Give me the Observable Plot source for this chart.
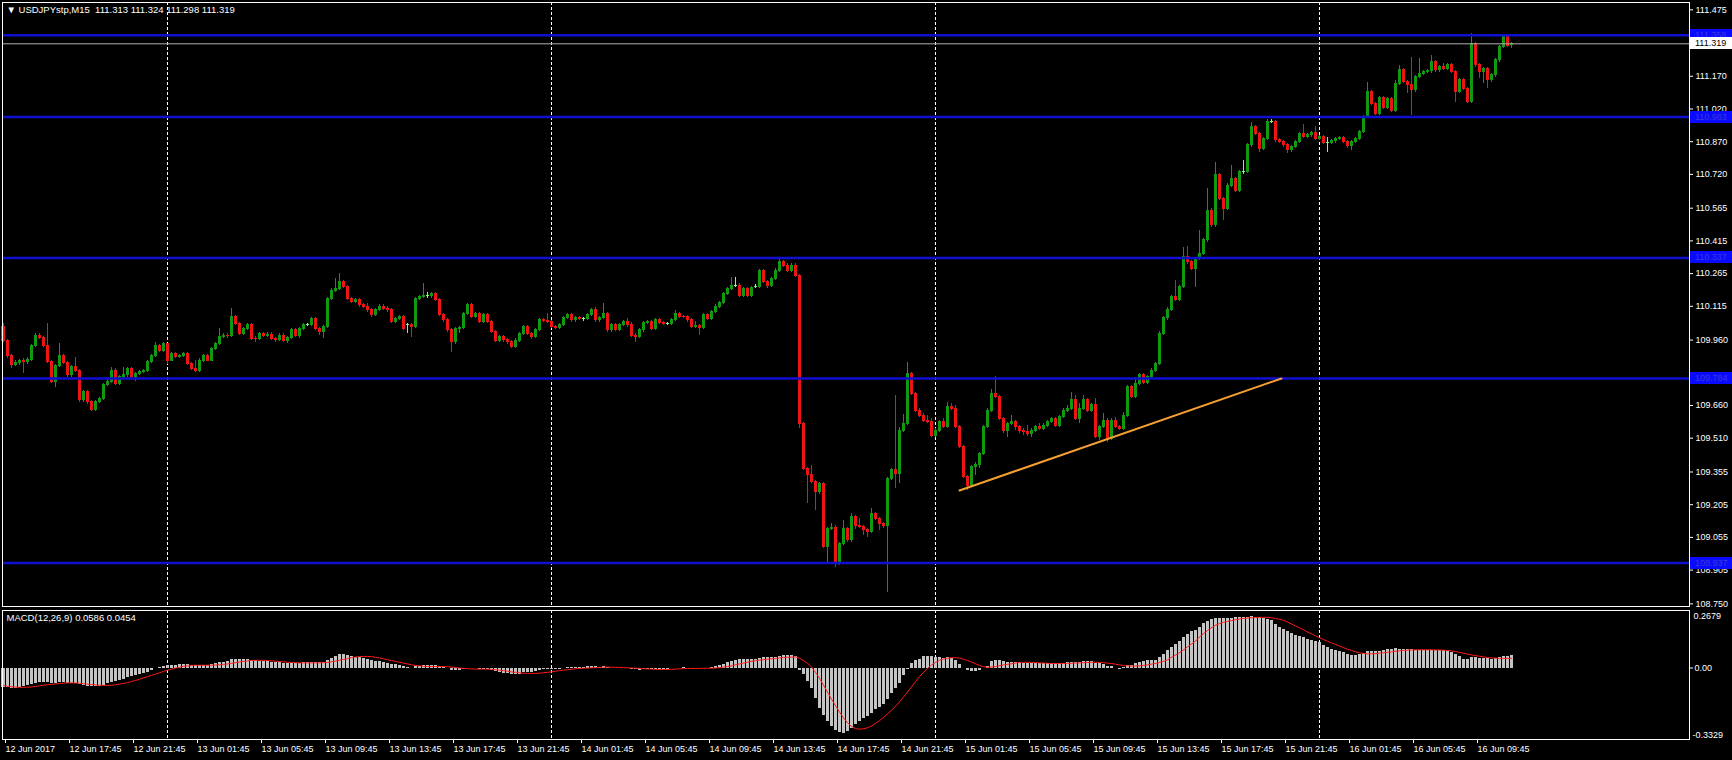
<!DOCTYPE html>
<html><head><meta charset="utf-8">
<script src="https://cdn.jsdelivr.net/npm/d3@7"></script>
<script src="https://cdn.jsdelivr.net/npm/@observablehq/plot@0.6"></script>
<style>
html,body{margin:0;padding:0;background:#000;}
#chart{position:relative;width:1732px;height:760px;overflow:hidden;background:#000;}
#chart svg{position:absolute;left:0;}
#chart text{white-space:pre;}
</style></head><body><div id="chart"></div>
<script>
// ---- data (USDJPYstp M15, bar 0 = 12 Jun 13:45) ----
const open = [
110.019,109.958,109.889,109.848,109.854,109.863,109.859,109.869,109.935,109.981,
109.970,109.931,109.859,109.767,109.843,109.885,109.854,109.798,109.836,109.817,
109.683,109.721,109.675,109.640,109.675,109.690,109.752,109.767,109.820,109.759,
109.790,109.798,109.828,109.790,109.805,109.813,109.816,109.859,109.889,109.935,
109.912,109.940,109.866,109.897,109.882,109.889,109.897,109.851,109.828,109.820,
109.866,109.889,109.866,109.920,109.943,109.973,109.981,109.977,110.065,110.035,
109.989,110.012,110.027,109.966,109.963,109.989,109.981,109.985,109.966,109.961,
109.981,109.958,109.970,110.004,109.981,110.012,110.031,110.031,110.057,110.012,
109.996,110.019,110.149,110.187,110.195,110.226,110.203,110.149,110.134,110.142,
110.119,110.114,110.096,110.073,110.099,110.114,110.103,110.096,110.042,110.057,
110.065,110.027,110.027,110.019,110.149,110.157,110.160,110.160,110.172,110.142,
110.073,110.050,110.004,109.950,110.011,110.015,110.080,110.119,110.068,110.080,
110.042,110.073,110.042,109.996,109.958,109.973,109.961,109.950,109.930,109.958,
109.989,110.019,109.989,109.976,110.007,110.050,110.047,110.042,110.019,110.016,
110.031,110.060,110.073,110.050,110.062,110.057,110.057,110.077,110.096,110.050,
110.062,110.080,110.004,110.027,110.007,110.031,110.042,110.027,109.981,109.973,
110.004,110.037,110.042,110.011,110.050,110.037,110.034,110.034,110.053,110.080,
110.068,110.065,110.050,110.022,110.024,110.016,110.073,110.057,110.088,110.114,
110.129,110.172,110.195,110.210,110.210,110.164,110.195,110.164,110.205,110.205,
110.275,110.226,110.206,110.241,110.279,110.317,110.302,110.279,110.302,110.256,
109.576,109.369,109.339,109.308,109.262,109.298,109.010,109.094,109.100,108.934,
109.025,109.094,109.041,109.148,109.109,109.102,109.087,109.079,109.163,109.140,
109.117,109.109,109.324,109.362,109.346,109.545,109.576,109.805,109.713,109.637,
109.614,109.591,109.585,109.522,109.545,109.583,109.561,109.652,109.645,109.561,
109.469,109.331,109.293,109.377,109.385,109.438,109.561,109.637,109.713,109.698,
109.599,109.545,109.576,109.583,109.561,109.545,109.538,109.530,109.545,109.561,
109.553,109.568,109.583,109.599,109.568,109.606,109.637,109.645,109.683,109.599,
109.645,109.683,109.637,109.660,109.515,109.561,109.591,109.507,109.591,109.561,
109.553,109.614,109.744,109.698,109.759,109.800,109.765,109.790,109.820,109.850,
109.990,110.060,110.100,110.157,110.145,110.203,110.340,110.317,110.287,110.333,
110.356,110.417,110.554,110.486,110.715,110.608,110.562,110.669,110.700,110.646,
110.730,110.730,110.853,110.937,110.906,110.837,110.883,110.960,110.960,110.876,
110.868,110.853,110.830,110.845,110.868,110.906,110.891,110.899,110.909,110.883,
110.891,110.863,110.863,110.872,110.883,110.885,110.868,110.848,110.868,110.883,
110.914,110.983,111.097,111.044,110.998,111.071,111.025,111.067,111.013,111.135,
111.197,111.143,111.128,111.105,111.166,111.181,111.189,111.193,111.235,111.197,
111.212,111.204,111.220,111.189,111.097,111.151,111.113,111.051,111.319,111.220,
111.189,111.204,111.151,111.174,111.243,111.304,111.350,111.313];
const high = [
110.034,109.965,109.895,109.866,109.872,109.875,109.878,109.942,109.989,109.990,
109.978,110.035,109.866,109.850,109.943,109.893,109.862,109.843,109.882,109.825,
109.730,109.728,109.684,109.683,109.698,109.760,109.782,109.835,109.828,109.798,
109.835,109.836,109.835,109.812,109.820,109.824,109.866,109.896,109.950,109.942,
109.948,109.946,109.905,109.904,109.895,109.904,109.903,109.858,109.866,109.874,
109.896,109.895,109.927,109.950,110.012,109.989,109.988,110.103,110.072,110.042,
110.020,110.034,110.034,109.975,109.997,109.995,109.997,109.996,109.973,109.988,
109.988,109.978,110.012,110.011,110.020,110.034,110.038,110.065,110.064,110.019,
110.027,110.157,110.195,110.241,110.264,110.234,110.210,110.157,110.150,110.149,
110.126,110.126,110.103,110.106,110.122,110.121,110.112,110.103,110.065,110.073,
110.072,110.035,110.034,110.157,110.165,110.218,110.180,110.180,110.179,110.149,
110.080,110.057,110.011,110.019,110.023,110.088,110.126,110.126,110.088,110.088,
110.080,110.080,110.050,110.004,109.981,109.981,109.968,109.958,109.966,109.996,
110.027,110.027,109.996,110.015,110.057,110.057,110.080,110.050,110.027,110.038,
110.067,110.080,110.080,110.069,110.069,110.065,110.084,110.103,110.111,110.069,
110.126,110.088,110.035,110.034,110.038,110.050,110.057,110.042,109.988,110.011,
110.045,110.050,110.050,110.057,110.060,110.045,110.042,110.060,110.096,110.088,
110.075,110.073,110.057,110.045,110.031,110.080,110.080,110.096,110.122,110.137,
110.180,110.203,110.249,110.249,110.218,110.203,110.203,110.207,110.213,110.282,
110.285,110.233,110.248,110.287,110.333,110.325,110.310,110.310,110.310,110.262,
109.584,109.377,109.385,109.316,109.306,109.306,109.102,109.117,109.108,109.033,
109.133,109.102,109.163,109.156,109.140,109.110,109.095,109.186,109.171,109.148,
109.125,109.332,109.370,109.706,109.560,109.620,109.859,109.813,109.721,109.645,
109.622,109.614,109.600,109.553,109.591,109.600,109.675,109.668,109.660,109.568,
109.477,109.339,109.385,109.400,109.446,109.568,109.645,109.735,109.793,109.706,
109.606,109.583,109.614,109.591,109.568,109.553,109.568,109.553,109.568,109.576,
109.576,109.591,109.606,109.606,109.614,109.645,109.660,109.721,109.706,109.668,
109.706,109.690,109.668,109.691,109.568,109.625,109.599,109.599,109.606,109.570,
109.630,109.752,109.751,109.790,109.808,109.808,109.798,109.828,109.858,110.000,
110.068,110.108,110.165,110.233,110.211,110.386,110.389,110.325,110.341,110.463,
110.425,110.654,110.562,110.776,110.723,110.616,110.677,110.761,110.708,110.738,
110.784,110.861,110.960,110.945,110.914,110.891,110.970,110.970,110.968,110.884,
110.876,110.861,110.853,110.876,110.914,110.949,110.906,110.916,110.940,110.899,
110.899,110.891,110.880,110.891,110.893,110.893,110.876,110.876,110.891,110.922,
110.991,111.143,111.105,111.052,111.079,111.079,111.075,111.075,111.150,111.220,
111.205,111.151,111.255,111.174,111.250,111.197,111.201,111.265,111.243,111.220,
111.227,111.228,111.228,111.197,111.159,111.159,111.120,111.368,111.327,111.228,
111.212,111.212,111.182,111.251,111.312,111.362,111.358,111.324];
const low = [
109.950,109.874,109.830,109.838,109.845,109.805,109.850,109.862,109.928,109.962,
109.925,109.852,109.762,109.744,109.836,109.846,109.790,109.790,109.810,109.676,
109.676,109.665,109.632,109.634,109.668,109.684,109.745,109.760,109.752,109.752,
109.782,109.790,109.780,109.770,109.797,109.806,109.810,109.852,109.882,109.905,
109.905,109.850,109.860,109.876,109.876,109.882,109.845,109.821,109.812,109.813,
109.859,109.860,109.860,109.912,109.936,109.966,109.969,109.970,110.028,109.982,
109.982,110.005,109.959,109.950,109.956,109.973,109.974,109.958,109.950,109.954,
109.950,109.945,109.963,109.974,109.966,110.005,110.024,110.024,110.005,109.980,
109.966,110.012,110.142,110.180,110.188,110.196,110.142,110.126,110.127,110.111,
110.107,110.088,110.063,110.066,110.092,110.096,110.088,110.035,110.035,110.050,
110.004,109.989,109.973,110.012,110.141,110.150,110.153,110.153,110.135,110.066,
110.042,109.996,109.904,109.942,109.989,110.008,110.073,110.061,110.061,110.035,
110.035,110.035,109.989,109.950,109.950,109.950,109.942,109.922,109.922,109.950,
109.981,109.981,109.961,109.968,110.000,110.040,110.035,110.012,110.008,110.008,
110.024,110.053,110.042,110.042,110.050,110.046,110.050,110.069,110.042,110.042,
110.055,109.996,109.996,110.000,110.000,110.024,110.019,109.973,109.950,109.966,
109.996,110.030,110.004,110.004,110.030,110.027,110.026,110.027,110.046,110.061,
110.057,110.042,110.015,110.015,109.981,110.008,110.050,110.050,110.080,110.106,
110.122,110.164,110.188,110.202,110.157,110.157,110.157,110.157,110.196,110.198,
110.218,110.198,110.199,110.233,110.272,110.294,110.272,110.272,110.249,109.553,
109.360,109.209,109.300,109.178,109.254,109.002,108.941,109.087,108.918,108.926,
109.018,109.033,109.033,109.090,109.094,109.064,109.056,109.071,109.132,109.087,
109.094,108.804,109.316,109.278,109.300,109.537,109.568,109.705,109.630,109.606,
109.583,109.577,109.514,109.514,109.537,109.553,109.553,109.637,109.553,109.462,
109.323,109.270,109.285,109.340,109.370,109.430,109.553,109.630,109.690,109.591,
109.530,109.514,109.568,109.545,109.530,109.522,109.520,109.514,109.537,109.545,
109.545,109.561,109.576,109.561,109.561,109.599,109.630,109.637,109.591,109.576,
109.637,109.630,109.630,109.507,109.500,109.553,109.492,109.500,109.553,109.545,
109.545,109.606,109.690,109.690,109.751,109.758,109.757,109.782,109.812,109.842,
109.982,110.052,110.092,110.137,110.137,110.195,110.309,110.279,110.203,110.325,
110.348,110.409,110.478,110.478,110.600,110.509,110.554,110.661,110.638,110.638,
110.719,110.722,110.845,110.898,110.822,110.829,110.875,110.952,110.868,110.860,
110.845,110.815,110.822,110.837,110.860,110.883,110.883,110.891,110.875,110.875,
110.855,110.822,110.855,110.864,110.875,110.860,110.840,110.830,110.860,110.875,
110.906,110.975,111.036,110.990,110.990,111.017,111.017,111.005,111.005,111.127,
111.135,111.090,110.990,111.097,111.158,111.173,111.181,111.185,111.189,111.189,
111.196,111.196,111.181,111.051,111.089,111.105,111.044,111.043,111.212,111.158,
111.135,111.113,111.143,111.166,111.235,111.296,111.303,111.298];
const close = [
109.958,109.889,109.848,109.854,109.863,109.859,109.869,109.935,109.981,109.970,
109.931,109.859,109.767,109.843,109.885,109.854,109.798,109.836,109.817,109.683,
109.721,109.675,109.640,109.675,109.690,109.752,109.767,109.820,109.759,109.790,
109.798,109.828,109.790,109.805,109.813,109.816,109.859,109.889,109.935,109.912,
109.940,109.866,109.897,109.882,109.889,109.897,109.851,109.828,109.820,109.866,
109.889,109.866,109.920,109.943,109.973,109.981,109.977,110.065,110.035,109.989,
110.012,110.027,109.966,109.963,109.989,109.981,109.985,109.966,109.961,109.981,
109.958,109.970,110.004,109.981,110.012,110.027,110.031,110.057,110.012,109.996,
110.019,110.149,110.187,110.195,110.226,110.203,110.149,110.134,110.142,110.119,
110.114,110.096,110.073,110.099,110.114,110.103,110.096,110.042,110.057,110.065,
110.011,110.027,110.019,110.149,110.157,110.160,110.160,110.172,110.142,110.073,
110.050,110.004,109.950,110.011,110.015,110.080,110.119,110.068,110.080,110.042,
110.073,110.042,109.996,109.958,109.973,109.961,109.950,109.930,109.958,109.989,
110.019,109.989,109.976,110.007,110.050,110.047,110.042,110.019,110.016,110.031,
110.060,110.073,110.050,110.062,110.057,110.057,110.077,110.096,110.050,110.062,
110.080,110.004,110.027,110.007,110.031,110.042,110.027,109.981,109.973,110.004,
110.037,110.042,110.011,110.050,110.037,110.034,110.034,110.053,110.080,110.068,
110.065,110.050,110.022,110.024,110.016,110.073,110.057,110.088,110.114,110.129,
110.172,110.195,110.210,110.210,110.164,110.195,110.164,110.200,110.205,110.275,
110.226,110.206,110.241,110.279,110.317,110.302,110.279,110.302,110.256,109.576,
109.369,109.339,109.308,109.262,109.298,109.010,109.094,109.100,108.934,109.025,
109.094,109.041,109.148,109.109,109.102,109.087,109.079,109.163,109.140,109.117,
109.109,109.324,109.362,109.346,109.545,109.576,109.805,109.713,109.637,109.614,
109.591,109.585,109.522,109.545,109.583,109.561,109.652,109.645,109.561,109.469,
109.331,109.293,109.377,109.385,109.438,109.561,109.637,109.713,109.698,109.599,
109.545,109.576,109.583,109.561,109.545,109.538,109.530,109.545,109.561,109.553,
109.568,109.583,109.599,109.568,109.606,109.637,109.645,109.683,109.599,109.645,
109.683,109.637,109.660,109.515,109.561,109.591,109.507,109.591,109.561,109.553,
109.614,109.744,109.698,109.759,109.800,109.765,109.790,109.820,109.850,109.990,
110.060,110.100,110.157,110.145,110.203,110.340,110.317,110.287,110.333,110.356,
110.417,110.554,110.486,110.715,110.608,110.562,110.669,110.700,110.646,110.730,
110.730,110.853,110.937,110.906,110.837,110.883,110.960,110.960,110.876,110.868,
110.853,110.830,110.845,110.868,110.906,110.891,110.899,110.909,110.883,110.891,
110.863,110.863,110.872,110.883,110.885,110.868,110.848,110.868,110.883,110.914,
110.983,111.097,111.044,110.998,111.071,111.025,111.067,111.013,111.135,111.197,
111.143,111.128,111.105,111.166,111.181,111.189,111.193,111.235,111.197,111.212,
111.204,111.220,111.189,111.097,111.151,111.113,111.051,111.319,111.220,111.189,
111.204,111.151,111.174,111.243,111.304,111.350,111.311,111.319];
const macdMain = [
-0.090,-0.092,-0.094,-0.094,-0.092,-0.088,-0.083,-0.078,-0.072,-0.068,
-0.066,-0.067,-0.072,-0.072,-0.069,-0.068,-0.070,-0.070,-0.071,-0.077,
-0.080,-0.084,-0.088,-0.088,-0.086,-0.080,-0.074,-0.066,-0.064,-0.058,
-0.052,-0.045,-0.041,-0.036,-0.031,-0.026,-0.019,-0.011,-0.002,0.004,
0.009,0.012,0.013,0.014,0.015,0.016,0.015,0.013,0.011,0.011,
0.012,0.012,0.015,0.019,0.024,0.028,0.031,0.038,0.040,0.039,
0.038,0.038,0.035,0.033,0.032,0.031,0.030,0.028,0.026,0.025,
0.023,0.022,0.023,0.022,0.023,0.024,0.025,0.027,0.026,0.024,
0.024,0.035,0.046,0.054,0.062,0.061,0.058,0.054,0.051,0.047,
0.043,0.039,0.034,0.031,0.029,0.026,0.023,0.018,0.015,0.012,
0.007,0.004,0.000,0.006,0.009,0.011,0.012,0.012,0.010,0.005,
0.001,-0.004,-0.010,-0.010,-0.010,-0.006,-0.002,-0.003,-0.003,-0.006,
-0.006,-0.008,-0.012,-0.018,-0.021,-0.024,-0.027,-0.030,-0.030,-0.028,
-0.023,-0.022,-0.021,-0.017,-0.011,-0.008,-0.006,-0.006,-0.006,-0.005,
-0.002,0.002,0.002,0.003,0.003,0.004,0.006,0.009,0.006,0.004,
0.006,0.002,0.000,-0.002,-0.002,-0.001,-0.002,-0.006,-0.009,-0.010,
-0.009,-0.008,-0.008,-0.007,-0.006,-0.006,-0.005,-0.004,-0.001,0.000,
0.001,0.000,-0.002,-0.003,-0.004,-0.002,-0.001,0.002,0.006,0.011,
0.018,0.025,0.032,0.037,0.039,0.040,0.040,0.041,0.041,0.046,
0.047,0.047,0.048,0.051,0.055,0.056,0.056,0.056,0.053,-0.012,
-0.032,-0.062,-0.095,-0.140,-0.190,-0.222,-0.250,-0.272,-0.290,-0.302,
-0.303,-0.296,-0.282,-0.262,-0.248,-0.235,-0.225,-0.212,-0.195,-0.182,
-0.168,-0.145,-0.118,-0.095,-0.070,-0.035,-0.005,0.022,0.035,0.042,
0.052,0.055,0.054,0.050,0.048,0.046,0.047,0.045,0.035,0.017,
0.000,-0.012,-0.017,-0.017,-0.012,-0.004,0.008,0.030,0.035,0.034,
0.030,0.028,0.025,0.024,0.024,0.022,0.020,0.020,0.019,0.019,
0.019,0.019,0.020,0.019,0.020,0.022,0.024,0.028,0.026,0.027,
0.030,0.032,0.030,0.023,0.020,0.018,0.008,0.005,0.000,-0.005,
0.002,0.010,0.014,0.020,0.025,0.032,0.035,0.034,0.036,0.050,
0.063,0.080,0.094,0.110,0.125,0.140,0.156,0.168,0.176,0.190,
0.207,0.218,0.226,0.230,0.231,0.231,0.232,0.232,0.234,0.235,
0.236,0.237,0.238,0.236,0.234,0.232,0.226,0.220,0.205,0.190,
0.179,0.168,0.160,0.152,0.147,0.142,0.135,0.128,0.122,0.117,
0.104,0.096,0.086,0.080,0.076,0.072,0.062,0.059,0.060,0.063,
0.068,0.075,0.077,0.079,0.079,0.082,0.085,0.087,0.089,0.088,
0.087,0.086,0.085,0.083,0.083,0.082,0.082,0.083,0.082,0.082,
0.081,0.079,0.072,0.062,0.053,0.042,0.040,0.048,0.048,0.046,
0.045,0.044,0.041,0.043,0.048,0.052,0.055,0.0586];
const macdSignal = [
-0.082,-0.085,-0.087,-0.089,-0.090,-0.090,-0.089,-0.088,-0.086,-0.083,
-0.080,-0.078,-0.076,-0.074,-0.072,-0.070,-0.069,-0.069,-0.070,-0.071,
-0.073,-0.075,-0.077,-0.079,-0.080,-0.081,-0.081,-0.080,-0.078,-0.075,
-0.072,-0.068,-0.063,-0.058,-0.052,-0.046,-0.040,-0.034,-0.028,-0.022,
-0.016,-0.010,-0.005,0.000,0.004,0.008,0.010,0.012,0.013,0.013,
0.013,0.013,0.013,0.014,0.015,0.017,0.019,0.022,0.025,0.028,
0.031,0.033,0.035,0.036,0.036,0.036,0.035,0.033,0.032,0.030,
0.029,0.027,0.026,0.025,0.024,0.024,0.024,0.024,0.024,0.024,
0.025,0.026,0.029,0.032,0.036,0.040,0.044,0.048,0.051,0.053,
0.054,0.054,0.053,0.050,0.047,0.043,0.039,0.035,0.031,0.027,
0.023,0.019,0.015,0.012,0.010,0.008,0.007,0.007,0.007,0.007,
0.007,0.006,0.004,0.002,0.000,-0.002,-0.003,-0.004,-0.005,-0.005,
-0.005,-0.005,-0.006,-0.008,-0.010,-0.012,-0.015,-0.018,-0.020,-0.022,
-0.024,-0.025,-0.025,-0.025,-0.024,-0.022,-0.020,-0.018,-0.015,-0.012,
-0.010,-0.008,-0.006,-0.004,-0.002,-0.001,0.000,0.001,0.002,0.003,
0.004,0.004,0.004,0.003,0.003,0.002,0.001,0.000,-0.001,-0.002,
-0.003,-0.004,-0.005,-0.006,-0.007,-0.007,-0.007,-0.006,-0.005,-0.004,
-0.003,-0.002,-0.002,-0.002,-0.002,-0.001,-0.001,-0.001,0.000,0.002,
0.004,0.007,0.010,0.015,0.019,0.023,0.027,0.031,0.034,0.037,
0.039,0.041,0.043,0.045,0.047,0.049,0.050,0.051,0.052,0.045,
0.035,0.022,0.005,-0.020,-0.048,-0.080,-0.112,-0.145,-0.175,-0.205,
-0.232,-0.255,-0.272,-0.282,-0.285,-0.283,-0.278,-0.270,-0.258,-0.245,
-0.230,-0.214,-0.197,-0.178,-0.158,-0.135,-0.112,-0.088,-0.064,-0.040,
-0.020,-0.002,0.014,0.026,0.036,0.042,0.046,0.048,0.048,0.046,
0.041,0.035,0.028,0.020,0.012,0.006,0.003,0.004,0.007,0.011,
0.014,0.017,0.020,0.023,0.026,0.027,0.027,0.026,0.025,0.024,
0.023,0.022,0.021,0.021,0.021,0.021,0.022,0.022,0.023,0.024,
0.025,0.026,0.027,0.027,0.026,0.025,0.023,0.021,0.018,0.015,
0.012,0.010,0.009,0.009,0.010,0.012,0.015,0.018,0.021,0.026,
0.031,0.038,0.050,0.060,0.072,0.085,0.098,0.112,0.125,0.145,
0.160,0.175,0.188,0.199,0.207,0.213,0.217,0.221,0.225,0.228,
0.231,0.233,0.234,0.235,0.236,0.236,0.236,0.234,0.231,0.227,
0.222,0.214,0.205,0.196,0.187,0.178,0.168,0.159,0.150,0.141,
0.133,0.125,0.117,0.110,0.102,0.095,0.088,0.082,0.076,0.071,
0.068,0.066,0.066,0.067,0.069,0.071,0.073,0.075,0.078,0.080,
0.082,0.083,0.084,0.085,0.085,0.085,0.085,0.085,0.084,0.084,
0.083,0.082,0.080,0.077,0.073,0.069,0.065,0.061,0.058,0.055,
0.052,0.049,0.047,0.046,0.045,0.045,0.045,0.0454];
const levels = [111.358, 110.983, 110.337, 109.784, 108.937];
const lastPrice = 111.319;
const trendBars = [239, 319.5];
const trendPrices = [109.270, 109.784];
const daySeparators = [41, 137, 233, 329];
// visible price-axis labels (111.320 and 109.810 sit under the price tags in the reference)
const priceTicks = [111.475,111.170,111.020,110.870,110.720,110.565,110.415,110.265,110.115,109.960,109.660,109.510,109.355,109.205,109.055,108.905,108.750];
const timeTickBars = [0,16,32,48,64,80,96,112,128,144,160,176,192,208,224,240,256,272,288,304,320,336,352,368];
const timeTickLabels = ["12 Jun 2017","12 Jun 17:45","12 Jun 21:45","13 Jun 01:45","13 Jun 05:45","13 Jun 09:45","13 Jun 13:45","13 Jun 17:45","13 Jun 21:45","14 Jun 01:45","14 Jun 05:45","14 Jun 09:45","14 Jun 13:45","14 Jun 17:45","14 Jun 21:45","15 Jun 01:45","15 Jun 05:45","15 Jun 09:45","15 Jun 13:45","15 Jun 17:45","15 Jun 21:45","16 Jun 01:45","16 Jun 05:45","16 Jun 09:45"];
const macdRange = [-0.3329, 0.2679];
const header = "\u25BC USDJPYstp,M15  111.313 111.324 111.298 111.319";
const macdHeader = "MACD(12,26,9) 0.0586 0.0454";

// ---- layout ----
const FONT = "'Liberation Sans', Arial, 'DejaVu Sans', sans-serif";
const W = 1732, ML = 3, MR = 43, BAR_PX = 4;
const xMax = (W - ML - MR) / BAR_PX;
const UP = "#109a10", DOWN = "#ee1414", DOJI = "#7dff7d";
const BLUE = "#1010d2";

const bars = close.map((c, i) => ({i, o: open[i], h: high[i], l: low[i], c}));
const col = d => d.c > d.o ? UP : d.c < d.o ? DOWN : DOJI;
const trend = trendBars.map((b, k) => ({b, p: trendPrices[k]}));
const macdData = macdMain.map((m, i) => ({i, m, s: macdSignal[i]}));
const tickLabel = new Map(timeTickBars.map((b, k) => [b, timeTickLabels[k]]));

const mainH = 608;
const main = Plot.plot({
  width: W, height: mainH,
  marginLeft: ML, marginRight: MR, marginTop: 2, marginBottom: 2,
  x: {domain: [0, xMax], axis: null},
  y: {domain: [108.738, 111.5085], axis: null},
  style: {background: "#000", color: "#fff", fontFamily: FONT, fontSize: "9px"},
  marks: [
    Plot.ruleX(daySeparators, {stroke: "#fff", strokeDasharray: "3,2", strokeWidth: 1}),
    Plot.ruleX(bars, {x: "i", y1: "l", y2: "h", stroke: col, strokeWidth: 1, shapeRendering: "crispEdges"}),
    Plot.rect(bars, {x1: d => d.i - 0.375, x2: d => d.i + 0.375, y1: "o", y2: "c", fill: col, insetTop: -0.5, insetBottom: -0.5, shapeRendering: "crispEdges"}),
    Plot.ruleY(levels, {stroke: BLUE, strokeWidth: 2.5}),
    Plot.ruleY([lastPrice], {stroke: "#b4b4b4", strokeWidth: 1}),
    Plot.line(trend, {x: "b", y: "p", stroke: "#f5a030", strokeWidth: 2}),
    Plot.axisY({anchor: "right", label: null, ticks: priceTicks, tickFormat: d => d.toFixed(3), tickSize: 3, tickPadding: 3, fill: "#fff", stroke: "#fff", fontSize: 9}),
    Plot.frame({stroke: "#fff", insetLeft: -1}),
    Plot.text([header], {frameAnchor: "top-left", dx: 3, dy: 4, textAnchor: "start", lineAnchor: "top", fill: "#fff", fontSize: 9.5})
  ]
});
main.style.top = "0px";

const macdH = 760 - mainH;
const macdPlot = Plot.plot({
  width: W, height: macdH,
  marginLeft: ML, marginRight: MR, marginTop: 2, marginBottom: 21,
  x: {domain: [0, xMax], axis: null},
  y: {domain: macdRange, axis: null},
  style: {background: "#000", color: "#fff", fontFamily: FONT, fontSize: "9px"},
  marks: [
    Plot.ruleX(daySeparators, {stroke: "#fff", strokeDasharray: "3,2", strokeWidth: 1}),
    Plot.rect(macdData, {x1: d => d.i - 0.375, x2: d => d.i + 0.375, y1: d => 0, y2: "m", fill: "#c4c4c4", shapeRendering: "crispEdges"}),
    Plot.line(macdData, {x: "i", y: "s", stroke: "#ff1a1a", strokeWidth: 1}),
    Plot.frame({stroke: "#fff", insetLeft: -1}),
    Plot.axisX({anchor: "bottom", label: null, ticks: timeTickBars, tickFormat: d => tickLabel.get(d), tickSize: 4, tickPadding: 2, textAnchor: "start", dx: 2, fill: "#fff", stroke: "#fff", fontSize: 9}),
    Plot.axisY({anchor: "right", label: null, ticks: [0], tickFormat: () => "0.00", tickSize: 3, tickPadding: 2, fill: "#fff", stroke: "#fff", fontSize: 9}),
    Plot.text([macdRange[1]], {y: d => d, text: d => d.toFixed(4), frameAnchor: "right", dx: 4, dy: 2, textAnchor: "start", lineAnchor: "top", fill: "#fff", fontSize: 9}),
    Plot.text([macdRange[0]], {y: d => d, text: d => d.toFixed(4), frameAnchor: "right", dx: 3, dy: -2, textAnchor: "start", lineAnchor: "bottom", fill: "#fff", fontSize: 9}),
    Plot.text([macdHeader], {frameAnchor: "top-left", dx: 3, dy: 4, textAnchor: "start", lineAnchor: "top", fill: "#fff", fontSize: 9.5})
  ]
});
macdPlot.style.top = mainH + "px";

// price tags on the right axis, positioned through the plot's own scales
(function addTags() {
  const ys = main.scale("y"), xs = main.scale("x");
  const x0 = xs.range[1] + 1;
  const g = d3.select(main).append("g")
    .attr("font-family", FONT).attr("font-size", 9).attr("text-anchor", "start");
  const tags = levels.map(v => ({v, bg: "#0a0aff", fg: "#3a3ad0"}))
    .concat([{v: lastPrice, bg: "#ffffff", fg: "#000000"}]);
  for (const t of tags) {
    const y = ys.apply(t.v);
    g.append("rect").attr("x", x0).attr("y", Math.round(y) - 6).attr("width", W - x0).attr("height", 12).attr("fill", t.bg);
    g.append("text").attr("x", x0 + 5).attr("y", Math.round(y)).attr("dy", "0.35em")
      .attr("text-anchor", "start").attr("fill", t.fg).text(t.v.toFixed(3));
  }
})();

const root = document.getElementById("chart");
root.appendChild(main);
root.appendChild(macdPlot);
</script>
</body></html>
